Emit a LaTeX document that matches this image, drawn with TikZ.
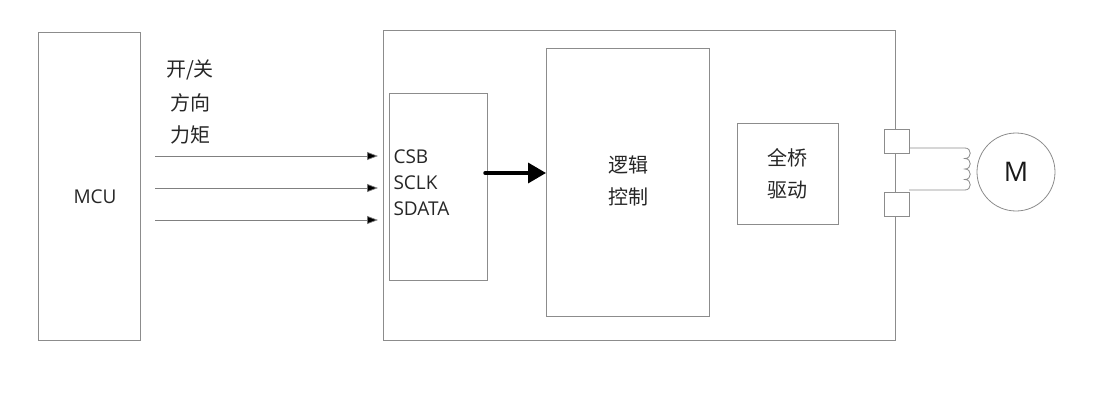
\documentclass[tikz,border=0pt]{standalone}
\usepackage{fontspec}
\setmainfont{Open Sans}
\newfontfamily\cjk{Noto Sans CJK SC}
\usetikzlibrary{arrows.meta}
\begin{document}
\begin{tikzpicture}[x=1pt,y=-1pt,
  bx/.style={draw=black!45,line width=0.8pt},
  sig/.style={draw=black!50,line width=0.7pt,-{Triangle[length=11pt,width=8pt,fill=black]}},
  tx/.style={font=\fontsize{19}{19}\selectfont,text=black!85},
  cn/.style={font=\cjk\fontsize{20}{20}\selectfont,text=black!85}]
\useasboundingbox (0,0) rectangle (1106,404);
\draw[bx] (38,32) rectangle (140,340);
\node[tx] (mcu) at (95,197) {MCU};
\draw[bx] (383,30) rectangle (895,340);
\draw[bx] (389,93) rectangle (487,280);
\node[tx,anchor=west] (csb) at (390,157) {CSB};
\node[tx,anchor=west] (sclk) at (390,183) {SCLK};
\node[tx,anchor=west] (sdata) at (390,209) {SDATA};
\draw[bx] (546,48) rectangle (709,316);
\node[cn] (l1) at (628,165) {逻辑};
\node[cn] (l2) at (628,197) {控制};
\draw[bx] (737,123) rectangle (838,224);
\node[cn] (b1) at (787,158) {全桥};
\node[cn] (b2) at (787,190) {驱动};
\node[cn] (t1) at (190,70) {开/关};
\node[cn] (t2) at (190,103) {方向};
\node[cn] (t3) at (190,135) {力矩};
\coordinate (s1) at (155,156); \coordinate (e1) at (378,156);
\coordinate (s2) at (155,188); \coordinate (e2) at (378,188);
\coordinate (s3) at (155,220); \coordinate (e3) at (378,220);
\draw[sig] (s1) -- (e1);
\draw[sig] (s2) -- (e2);
\draw[sig] (s3) -- (e3);
\coordinate (as) at (485,173); \coordinate (ae) at (546,173);
\draw[line width=3.5pt,line cap=round,-{Triangle[length=18pt,width=20pt]}] (as) -- (ae);
\draw[bx,fill=white] (884,129) rectangle (909,153);
\draw[bx,fill=white] (884,192) rectangle (909,216);
\draw[bx] (909,148) -- (965,148)
  .. controls (972,148) and (972,158.5) .. (965,158.5)
  .. controls (972,158.5) and (972,169) .. (965,169)
  .. controls (972,169) and (972,179.5) .. (965,179.5)
  .. controls (972,179.5) and (972,190) .. (965,190)
  -- (909,190);
\draw[bx] (1016,172) circle[radius=39];
\node[font=\fontsize{27}{27}\selectfont,text=black!90] (m) at (1016,172) {M};
\end{tikzpicture}
\end{document}
